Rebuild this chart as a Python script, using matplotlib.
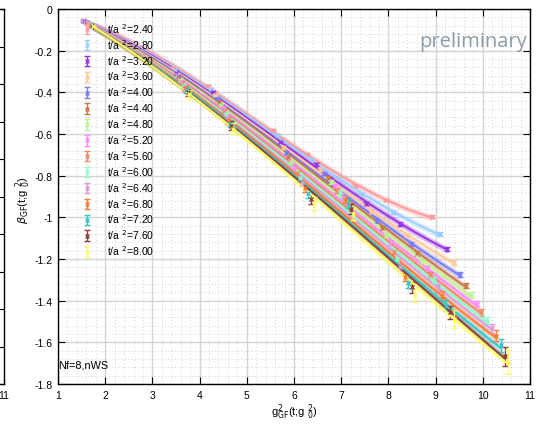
import matplotlib
matplotlib.use('Agg')
import matplotlib.pyplot as plt
import numpy as np
from matplotlib.ticker import MultipleLocator, FuncFormatter

plt.rcParams['font.family'] = ['Liberation Sans', 'DejaVu Sans']
plt.rcParams['mathtext.fontset'] = 'dejavusans'
plt.rcParams['axes.unicode_minus'] = False

# flow times t/a^2 (one series each)
t_vals = [2.40, 2.80, 3.20, 3.60, 4.00, 4.40, 4.80, 5.20, 5.60, 6.00, 6.40, 6.80, 7.20, 7.60, 8.00]
colors = ['#ff9a9a', '#9ccdff', '#9933e6', '#ffc999', '#7a7aff', '#c87a48', '#bff58f', '#ff8cff',
          '#ee8a66', '#8cffcc', '#dc9cdc', '#ff7a33', '#33c8c8', '#8a4040', '#ffff66']

# g^2_GF per ensemble (rows) and flow time (columns)
g2_ens1 = [1.52, 1.54, 1.56, 1.58, 1.60, 1.61, 1.63, 1.64, 1.66, 1.67, 1.68, 1.70, 1.71, 1.73, 1.75]
g2_ens2 = [3.44, 3.47, 3.50, 3.53, 3.55, 3.57, 3.59, 3.61, 3.63, 3.65, 3.67, 3.70, 3.72, 3.75, 3.78]
g2_ens3 = [4.18, 4.24, 4.29, 4.33, 4.37, 4.41, 4.45, 4.49, 4.52, 4.55, 4.58, 4.61, 4.64, 4.67, 4.70]
g2_ens4 = [5.56, 5.63, 5.70, 5.76, 5.82, 5.88, 5.94, 6.00, 6.06, 6.12, 6.18, 6.24, 6.30, 6.36, 6.42]
g2_ens5 = [6.27, 6.37, 6.46, 6.55, 6.63, 6.71, 6.79, 6.86, 6.92, 6.98, 7.04, 7.09, 7.15, 7.20, 7.26]
g2_ens6 = [7.29, 7.42, 7.53, 7.64, 7.75, 7.86, 7.95, 8.04, 8.11, 8.18, 8.25, 8.35, 8.42, 8.49, 8.56]
g2_ens7 = [7.94, 8.10, 8.25, 8.37, 8.47, 8.60, 8.72, 8.81, 8.88, 8.97, 9.06, 9.13, 9.22, 9.31, 9.39]
g2_ens8 = [8.92, 9.09, 9.25, 9.39, 9.52, 9.64, 9.75, 9.87, 9.97, 10.08, 10.19, 10.28, 10.38, 10.46, 10.54]

# beta_GF per ensemble and flow time
b_ens1 = [-0.055, -0.057, -0.059, -0.061, -0.063, -0.065, -0.067, -0.069, -0.071, -0.073, -0.075, -0.077, -0.079, -0.081, -0.083]
b_ens2 = [-0.285, -0.295, -0.305, -0.315, -0.323, -0.331, -0.339, -0.347, -0.355, -0.363, -0.371, -0.380, -0.390, -0.400, -0.410]
b_ens3 = [-0.370, -0.385, -0.400, -0.415, -0.430, -0.445, -0.460, -0.475, -0.490, -0.505, -0.520, -0.535, -0.550, -0.560, -0.575]
b_ens4 = [-0.580, -0.605, -0.640, -0.665, -0.690, -0.710, -0.735, -0.760, -0.785, -0.810, -0.835, -0.860, -0.885, -0.910, -0.936]
b_ens5 = [-0.696, -0.720, -0.745, -0.770, -0.790, -0.810, -0.830, -0.850, -0.870, -0.885, -0.900, -0.915, -0.935, -0.960, -0.985]
b_ens6 = [-0.848, -0.890, -0.935, -0.975, -1.016, -1.053, -1.090, -1.130, -1.165, -1.200, -1.240, -1.285, -1.315, -1.335, -1.375]
b_ens7 = [-0.917, -0.976, -1.032, -1.085, -1.128, -1.173, -1.216, -1.248, -1.277, -1.304, -1.330, -1.376, -1.424, -1.456, -1.488]
b_ens8 = [-0.997, -1.080, -1.152, -1.216, -1.275, -1.328, -1.372, -1.416, -1.456, -1.496, -1.533, -1.568, -1.615, -1.667, -1.696]

# statistical errors
e_ens1 = [0.003] * 15
e_ens2 = [0.004, 0.004, 0.005, 0.005, 0.006, 0.006, 0.007, 0.008, 0.009, 0.010, 0.011, 0.012, 0.014, 0.016, 0.020]
e_ens3 = [0.005, 0.005, 0.006, 0.006, 0.007, 0.008, 0.009, 0.010, 0.011, 0.012, 0.014, 0.016, 0.018, 0.022, 0.027]
e_ens4 = [0.006, 0.006, 0.007, 0.007, 0.008, 0.009, 0.010, 0.011, 0.012, 0.014, 0.016, 0.019, 0.022, 0.027, 0.032]
e_ens5 = [0.006, 0.006, 0.007, 0.007, 0.008, 0.009, 0.010, 0.011, 0.012, 0.014, 0.016, 0.018, 0.021, 0.025, 0.030]
e_ens6 = [0.006, 0.007, 0.007, 0.008, 0.009, 0.010, 0.011, 0.012, 0.013, 0.015, 0.017, 0.019, 0.022, 0.026, 0.030]
e_ens7 = [0.006, 0.008, 0.009, 0.010, 0.011, 0.012, 0.013, 0.014, 0.016, 0.018, 0.020, 0.022, 0.026, 0.032, 0.042]
e_ens8 = [0.008, 0.010, 0.010, 0.012, 0.013, 0.013, 0.015, 0.016, 0.018, 0.020, 0.022, 0.025, 0.030, 0.045, 0.058]

g2 = np.array([g2_ens1, g2_ens2, g2_ens3, g2_ens4, g2_ens5, g2_ens6, g2_ens7, g2_ens8])
beta = np.array([b_ens1, b_ens2, b_ens3, b_ens4, b_ens5, b_ens6, b_ens7, b_ens8])
err = np.array([e_ens1, e_ens2, e_ens3, e_ens4, e_ens5, e_ens6, e_ens7, e_ens8])

W, H = 537, 427
fig = plt.figure(figsize=(W / 100, H / 100), dpi=100)

# fragment of the neighbouring panel on the far left
frag = fig.add_axes([(4 - 472) / W, 42 / H, 472 / W, 375 / H])
frag.set_xlim(1, 11)
frag.set_ylim(0, 1)
frag.set_xticks([11])
frag.set_yticks(np.arange(0, 1.01, 0.1))
frag.tick_params(axis='y', left=False, right=True, labelleft=False, direction='in', length=4)
frag.tick_params(axis='x', direction='in', length=4, labelsize=7.5, pad=4)
for s in frag.spines.values():
    s.set_linewidth(1.0)

ax = fig.add_axes([58 / W, 42 / H, 472 / W, 375 / H])
ax.set_xlim(1, 11)
ax.set_ylim(-1.8, 0)
ax.xaxis.set_major_locator(MultipleLocator(1))
ax.yaxis.set_major_locator(MultipleLocator(0.2))
ax.xaxis.set_minor_locator(MultipleLocator(0.2))
ax.yaxis.set_minor_locator(MultipleLocator(0.04))
ax.yaxis.set_major_formatter(FuncFormatter(lambda v, p: '%g' % round(v, 2) if abs(v) > 1e-9 else '0'))
ax.tick_params(which='major', direction='in', top=True, right=True, length=5, labelsize=7.5, pad=4)
ax.tick_params(which='minor', length=0)
ax.grid(which='major', color='#d4d4d4', lw=1.0)
ax.grid(which='minor', color='#c4c4c4', lw=0.6, ls=(0, (1, 3)))
ax.set_axisbelow(True)
for s in ax.spines.values():
    s.set_linewidth(1.0)

for j, t in enumerate(t_vals):
    c = colors[j]
    x = g2[:, j]
    y = beta[:, j]
    coef = np.polyfit(x, y, 3)
    xf = np.linspace(x.min(), x.max(), 120)
    yf = np.polyval(coef, xf)
    ax.fill_between(xf, yf - 0.016, yf + 0.016, color=c, alpha=0.35, lw=0)
    ax.plot(xf, yf, color=c, lw=1.4)
    ax.errorbar(x, y, yerr=err[:, j], fmt='x', color=c, ms=3.5, mew=1.0,
                elinewidth=1.0, capsize=2.5, capthick=1.0,
                label=r't/a $^{2}$=%.2f' % t)

ax.legend(loc='upper left', bbox_to_anchor=(0.049, 0.968), frameon=False,
          fontsize=7.5, handlelength=1.2, handletextpad=1.3, labelspacing=0.2,
          borderpad=0, borderaxespad=0)

ax.text(1.0, -1.705, 'Nf=8,nWS', fontsize=7.8, ha='left', va='center')
fig.text(527 / W, 1 - 42 / H, 'preliminary', fontsize=14.5, color='#8c9cab',
         ha='right', va='center', family='Open Sans')

fig.text(23 / W, 1 - 200 / H, r'$\beta_{\rm GF}$(t;g $_0^2$)', rotation=90,
         ha='center', va='center', fontsize=8)
fig.text(294 / W, 1 - 412 / H, r'g$^2_{\rm GF}$(t;g $^2_0$)', ha='center', va='center', fontsize=8)

fig.savefig('out.png', dpi=100)
